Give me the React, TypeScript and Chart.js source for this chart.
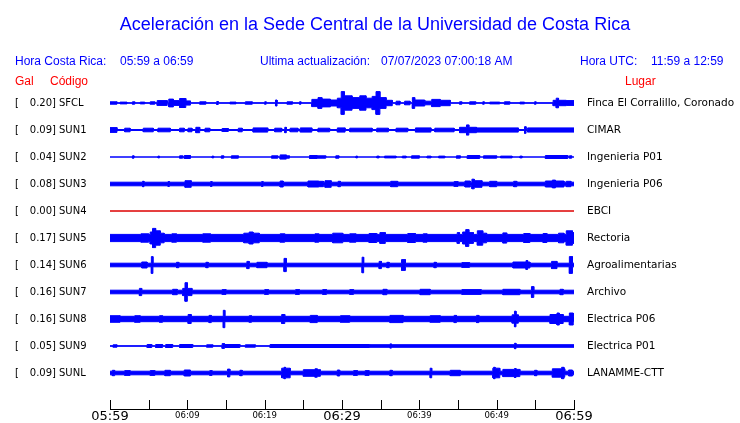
import React, { useEffect, useRef } from "react";
import { Chart, registerables } from "chart.js";

Chart.register(...registerables);

// ---- data ----
const CODES = ["SFCL", "SUN1", "SUN2", "SUN3", "SUN4", "SUN5", "SUN6", "SUN7", "SUN8", "SUN9", "SUNL"];
const PLACES = [
  "Finca El Corralillo, Coronado",
  "CIMAR",
  "Ingenieria P01",
  "Ingenieria P06",
  "EBCI",
  "Rectoria",
  "Agroalimentarias",
  "Archivo",
  "Electrica P06",
  "Electrica P01",
  "LANAMME-CTT",
];
const PEAK_GAL = [0.2, 0.09, 0.04, 0.08, 0.0, 0.17, 0.14, 0.16, 0.16, 0.05, 0.09];
// background (noise) half-amplitude of each trace, gal
const BASE_GAL = [0.005, 0.008, 0.0, 0.03, 0.0, 0.06, 0.03, 0.03, 0.045, 0.005, 0.03];

// bursts: [start minute, end minute, half amplitude in gal]
const SFCL_BURSTS = [
  [0, 0.9, 0.02], [1.3, 2.2, 0.015], [2.9, 3.2, 0.02], [3.9, 4.5, 0.015], [5.2, 5.8, 0.02],
  [6.1, 7.4, 0.04], [7.6, 8.2, 0.065], [8.2, 9.0, 0.04], [9.0, 9.8, 0.075], [9.8, 10.4, 0.035],
  [11.6, 12.4, 0.02], [13.8, 14.0, 0.025], [15.5, 16.3, 0.015], [17.5, 18.4, 0.02], [20.0, 20.2, 0.02],
  [21.4, 21.6, 0.05], [22.9, 23.6, 0.02], [24.5, 24.7, 0.02], [26.1, 26.9, 0.06], [26.9, 27.4, 0.09],
  [27.4, 28.5, 0.065], [28.5, 29.4, 0.05], [29.4, 29.9, 0.08], [29.9, 30.3, 0.19], [30.3, 31.3, 0.12],
  [31.3, 32.3, 0.09], [32.3, 33.1, 0.12], [33.1, 33.9, 0.08], [33.9, 34.4, 0.11], [34.4, 34.9, 0.19],
  [34.9, 35.7, 0.09], [35.7, 36.5, 0.045], [37.0, 37.5, 0.03], [38.1, 38.8, 0.03], [39.1, 39.4, 0.09],
  [39.4, 40.7, 0.05], [40.7, 41.6, 0.03], [41.6, 42.7, 0.06], [42.7, 44.0, 0.045], [45.2, 45.5, 0.02],
  [46.5, 47.3, 0.02], [48.2, 48.4, 0.02], [49.1, 50.4, 0.015], [51.0, 51.7, 0.02], [53.0, 53.6, 0.015],
  [54.9, 55.1, 0.02], [57.3, 57.7, 0.045], [57.7, 58.0, 0.08], [58.0, 59.0, 0.045], [59.0, 60, 0.04],
];
const SUN1_BURSTS = [
  [0, 0.9, 0.04], [1.9, 2.6, 0.03], [4.3, 5.6, 0.03], [6.2, 7.8, 0.03], [9.0, 9.6, 0.03],
  [10.1, 10.6, 0.03], [11.1, 11.6, 0.045], [12.3, 12.9, 0.03], [14.5, 15.3, 0.025], [16.6, 17.1, 0.03],
  [18.5, 20.4, 0.035], [21.3, 22.2, 0.03], [22.6, 22.8, 0.045], [23.3, 24.3, 0.03], [24.6, 26.1, 0.035],
  [26.9, 28.4, 0.03], [29.4, 30.4, 0.035], [31.0, 33.9, 0.03], [34.5, 36.0, 0.03], [37.0, 38.5, 0.03],
  [39.5, 41.5, 0.035], [42.0, 44.5, 0.03], [45.2, 46.1, 0.045], [46.1, 46.4, 0.085], [46.4, 47.4, 0.045],
  [47.4, 52.8, 0.035], [53.6, 53.8, 0.055], [54.0, 60, 0.035],
];
const SUN2_BURSTS = [
  [2.9, 3.1, 0.02], [6.2, 6.4, 0.015], [9.0, 9.4, 0.02], [9.6, 10.4, 0.025], [13.2, 13.4, 0.015],
  [14.4, 14.7, 0.02], [15.7, 16.6, 0.02], [20.9, 21.7, 0.02], [22.0, 22.8, 0.035], [22.8, 23.2, 0.02],
  [25.8, 26.8, 0.025], [26.8, 27.9, 0.02], [29.2, 29.6, 0.02], [31.8, 32.0, 0.015], [34.5, 34.8, 0.015],
  [35.5, 37.0, 0.015], [37.8, 38.3, 0.015], [39.0, 40.0, 0.02], [41.0, 41.5, 0.015], [42.5, 43.3, 0.015],
  [44.8, 45.3, 0.02], [46.2, 47.8, 0.025], [48.3, 50.0, 0.02], [50.5, 52.0, 0.015], [53.0, 53.3, 0.015],
  [56.3, 59.2, 0.025], [59.4, 59.7, 0.02],
];
const SUN3_BURSTS = [
  [4.2, 4.4, 0.045], [7.5, 7.7, 0.04], [9.7, 10.5, 0.055], [13.0, 13.2, 0.04], [19.6, 19.8, 0.04],
  [22.0, 22.4, 0.05], [25.6, 27.0, 0.05], [27.0, 27.6, 0.045], [27.8, 28.6, 0.055], [29.5, 29.8, 0.045],
  [36.3, 37.2, 0.045], [44.5, 45.0, 0.04], [45.9, 46.6, 0.05], [46.8, 47.1, 0.08], [47.1, 48.1, 0.055],
  [49.1, 50.0, 0.045], [52.2, 52.6, 0.045], [56.3, 57.2, 0.05], [57.2, 57.6, 0.065], [57.6, 58.7, 0.05],
  [59.0, 59.6, 0.045],
];
const SUN4_BURSTS = [];
const SUN5_BURSTS = [
  [4.0, 5.0, 0.07], [5.2, 5.5, 0.1], [5.5, 5.9, 0.16], [5.9, 6.5, 0.12], [6.5, 7.0, 0.08],
  [8.0, 8.6, 0.07], [12.0, 13.0, 0.07], [17.3, 18.0, 0.08], [18.0, 18.5, 0.1], [18.5, 19.3, 0.08],
  [22.0, 22.6, 0.07], [26.5, 27.0, 0.07], [28.8, 30.1, 0.08], [31.0, 31.8, 0.07], [33.5, 34.5, 0.075],
  [34.9, 35.6, 0.09], [38.5, 39.5, 0.075], [40.5, 41.0, 0.07], [44.9, 45.2, 0.09], [45.6, 46.0, 0.1],
  [46.0, 46.4, 0.14], [46.4, 47.0, 0.09], [47.5, 48.2, 0.12], [48.2, 48.7, 0.08], [50.8, 51.3, 0.085],
  [53.5, 54.3, 0.075], [56.0, 56.5, 0.075], [58.0, 58.7, 0.08], [59.0, 59.8, 0.12], [59.8, 60, 0.09],
];
const SUN6_BURSTS = [
  [4.1, 4.8, 0.05], [5.35, 5.55, 0.14], [8.6, 8.9, 0.045], [12.4, 12.7, 0.045], [17.7, 18.0, 0.06],
  [19.0, 20.3, 0.045], [22.5, 22.8, 0.11], [32.6, 32.8, 0.13], [34.8, 35.1, 0.06], [35.8, 36.1, 0.045],
  [37.7, 38.2, 0.09], [41.9, 42.2, 0.045], [45.5, 46.5, 0.04], [52.1, 53.8, 0.05], [53.8, 54.0, 0.075],
  [54.0, 54.3, 0.05], [57.1, 57.8, 0.06], [59.4, 59.8, 0.14],
];
const SUN7_BURSTS = [
  [3.8, 4.1, 0.06], [8.1, 8.7, 0.045], [9.4, 9.7, 0.06], [9.7, 10.0, 0.155], [10.0, 10.6, 0.06],
  [14.5, 15.0, 0.04], [20.0, 20.5, 0.04], [24.0, 24.5, 0.04], [27.5, 28.0, 0.04], [31.0, 31.5, 0.04],
  [35.3, 35.8, 0.045], [40.1, 41.4, 0.045], [45.5, 48.0, 0.04], [50.8, 53.0, 0.045], [54.5, 54.8, 0.09],
  [58.2, 58.6, 0.045],
];
const SUN8_BURSTS = [
  [0, 1.3, 0.055], [3.2, 3.9, 0.055], [6.4, 6.8, 0.055], [10.1, 10.5, 0.075], [12.8, 13.1, 0.06],
  [14.65, 14.85, 0.145], [18.0, 18.3, 0.055], [22.2, 22.6, 0.075], [25.9, 26.8, 0.06], [29.8, 31.0, 0.055],
  [36.2, 37.9, 0.06], [41.4, 42.7, 0.055], [44.5, 44.8, 0.06], [47.4, 47.7, 0.06], [52.0, 52.3, 0.07],
  [52.3, 52.5, 0.13], [52.5, 52.8, 0.07], [56.9, 57.8, 0.075], [57.8, 58.1, 0.1], [58.1, 58.6, 0.075],
  [59.4, 59.9, 0.1],
];
const SUN9_BURSTS = [
  [0.4, 0.9, 0.02], [4.8, 5.4, 0.025], [5.9, 6.8, 0.025], [7.2, 8.1, 0.025], [9.0, 10.7, 0.025],
  [12.5, 13.3, 0.02], [14.5, 14.8, 0.04], [14.8, 16.8, 0.025], [17.5, 18.8, 0.02], [20.7, 33.6, 0.025],
  [33.6, 36.2, 0.022], [36.2, 36.4, 0.035], [36.4, 52.3, 0.022], [52.3, 52.5, 0.045], [52.5, 60, 0.022],
];
const SUNL_BURSTS = [
  [0.3, 0.6, 0.045], [1.9, 2.6, 0.04], [5.2, 5.8, 0.04], [7.1, 7.8, 0.045], [9.6, 10.4, 0.05],
  [12.9, 13.2, 0.04], [15.2, 15.5, 0.065], [16.8, 17.1, 0.045], [22.2, 22.5, 0.08], [22.5, 22.7, 0.095],
  [22.7, 23.3, 0.08], [25.0, 26.5, 0.055], [26.5, 26.8, 0.07], [26.8, 27.2, 0.055], [29.4, 29.7, 0.05],
  [31.5, 32.0, 0.04], [33.0, 33.5, 0.04], [36.2, 36.5, 0.045], [41.4, 41.6, 0.08], [44.0, 45.3, 0.045],
  [49.5, 49.6, 0.08], [49.6, 49.8, 0.095], [49.8, 50.4, 0.08], [50.8, 52.3, 0.06], [52.3, 52.5, 0.075],
  [52.5, 53.0, 0.06], [54.9, 55.2, 0.045], [57.2, 58.4, 0.07], [58.4, 58.7, 0.095], [58.7, 58.8, 0.07],
  [59.3, 59.8, 0.05],
];
const BURSTS = [
  SFCL_BURSTS, SUN1_BURSTS, SUN2_BURSTS, SUN3_BURSTS, SUN4_BURSTS, SUN5_BURSTS,
  SUN6_BURSTS, SUN7_BURSTS, SUN8_BURSTS, SUN9_BURSTS, SUNL_BURSTS,
];

const TICK_MINUTES = [0, 5, 10, 15, 20, 25, 30, 35, 40, 45, 50, 55, 60];
const LABEL_MINUTES = [0, 10, 20, 30, 40, 50, 60];
const TIME_LABELS = ["05:59", "06:09", "06:19", "06:29", "06:39", "06:49", "06:59"];

const TITLE = "Aceleración en la Sede Central de la Universidad de Costa Rica";
const HEADER_PARTS = [
  ["Hora Costa Rica:", "05:59 a 06:59"],
  ["Ultima actualización:", "07/07/2023 07:00:18 AM"],
  ["Hora UTC:", "11:59 a 12:59"],
];

// ---- layout constants ----
const TRACE_TOP = 5.1; // y value of first trace centre
const TRACE_STEP = 0.45; // gal between trace centres
const BLUE = "#0000ff";
const RED = "#dd0000";

function envelope(base: number, bursts: number[][]) {
  const set = new Set<number>([0, 60]);
  bursts.forEach((b) => { set.add(b[0]); set.add(b[1]); });
  const xs = Array.from(set).sort((a, b) => a - b);
  const pts: { x: number; a: number }[] = [];
  for (let i = 0; i < xs.length - 1; i++) {
    const a = xs[i], b = xs[i + 1], mid = (a + b) / 2;
    let amp = base;
    for (const [t0, t1, v] of bursts) if (t0 <= mid && mid < t1 && v > amp) amp = v;
    pts.push({ x: a, a: amp }, { x: b, a: amp });
  }
  return pts;
}

const textPlugin = {
  id: "seismoText",
  afterDraw(chart: any) {
    const ctx = chart.ctx;
    const xs = chart.scales.x;
    const ys = chart.scales.y;
    ctx.save();
    // tick marks (pointing up into the plot)
    ctx.strokeStyle = "#000";
    ctx.lineWidth = 1;
    const bottom = chart.chartArea.bottom;
    TICK_MINUTES.forEach((m) => {
      const px = Math.round(xs.getPixelForValue(m)) + 0.5;
      ctx.beginPath();
      ctx.moveTo(px, bottom);
      ctx.lineTo(px, bottom - 9);
      ctx.stroke();
    });
    // title
    ctx.fillStyle = BLUE;
    ctx.textBaseline = "alphabetic";
    ctx.textAlign = "center";
    ctx.font = "18px 'Liberation Sans', Arial, sans-serif";
    ctx.fillText(TITLE, 375, 30);
    // header line
    ctx.textAlign = "left";
    ctx.font = "12px 'Liberation Sans', Arial, sans-serif";
    const hx = [[15, 120], [260, 381], [580, 651]];
    HEADER_PARTS.forEach((p, i) => {
      ctx.fillText(p[0], hx[i][0], 65);
      ctx.fillText(p[1], hx[i][1], 65);
    });
    ctx.fillStyle = "#ff0000";
    ctx.fillText("Gal", 15, 85);
    ctx.fillText("Código", 50, 85);
    ctx.fillText("Lugar", 625, 85);
    // trace labels
    ctx.fillStyle = "#000";
    ctx.textBaseline = "middle";
    CODES.forEach((code, i) => {
      const py = ys.getPixelForValue(TRACE_TOP - i * TRACE_STEP) + 0.5;
      ctx.font = "10px 'DejaVu Sans', sans-serif";
      ctx.textAlign = "left";
      ctx.fillText("[", 15, py);
      ctx.textAlign = "right";
      ctx.fillText(PEAK_GAL[i].toFixed(2) + "]", 56, py);
      ctx.textAlign = "left";
      ctx.fillText(code, 59, py);
      ctx.font = "10.5px 'DejaVu Sans', sans-serif";
      ctx.fillText(PLACES[i], 587, py);
    });
    ctx.restore();
  },
};

export default function App() {
  const ref = useRef<HTMLCanvasElement | null>(null);
  useEffect(() => {
    if (!ref.current) return;
    const datasets: any[] = [];
    CODES.forEach((code, i) => {
      const off = TRACE_TOP - i * TRACE_STEP;
      const color = PEAK_GAL[i] === 0 ? RED : BLUE;
      const env = envelope(BASE_GAL[i], BURSTS[i]);
      datasets.push({
        label: code + " +",
        data: env.map((p) => ({ x: p.x, y: off + p.a })),
        borderColor: color,
        backgroundColor: color,
        borderWidth: 1,
        pointRadius: 0,
        fill: "+1",
        tension: 0,
      });
      datasets.push({
        label: code + " -",
        data: env.map((p) => ({ x: p.x, y: off - p.a })),
        borderColor: color,
        backgroundColor: color,
        borderWidth: 1,
        pointRadius: 0,
        fill: false,
        tension: 0,
      });
    });
    const chart = new Chart(ref.current, {
      type: "line",
      data: { datasets },
      options: {
        responsive: false,
        devicePixelRatio: 1,
        animation: false,
        layout: { padding: { left: 110, right: 166, top: 85, bottom: 0 } },
        plugins: { legend: { display: false }, tooltip: { enabled: false } },
        scales: {
          x: {
            type: "linear",
            min: 0,
            max: 60,
            offset: false,
            afterFit: (s: any) => { s.height = 14; },
            grid: { display: false, drawTicks: false },
            border: { display: true, color: "#000", width: 1 },
            ticks: {
              stepSize: 10,
              autoSkip: false,
              maxRotation: 0,
              padding: 1,
              color: "#000",
              callback: (v: any) => {
                const k = LABEL_MINUTES.indexOf(Number(v));
                return k >= 0 ? TIME_LABELS[k] : "";
              },
              font: (c: any) =>
                c.tick && Number(c.tick.value) % 30 === 0
                  ? { family: "'DejaVu Sans', sans-serif", size: 13, lineHeight: 1.0 }
                  : { family: "'DejaVu Sans', sans-serif", size: 8.5, lineHeight: 1.4 },
            },
          },
          y: { type: "linear", min: 0, max: 5.4, display: false },
        },
      },
      plugins: [textPlugin],
    } as any);
    return () => chart.destroy();
  }, []);
  return (
    <div style={{ position: "fixed", left: 0, top: 0, width: 740, height: 423, background: "#fff" }}>
      <canvas ref={ref} width={740} height={423} style={{ display: "block" }} />
    </div>
  );
}
